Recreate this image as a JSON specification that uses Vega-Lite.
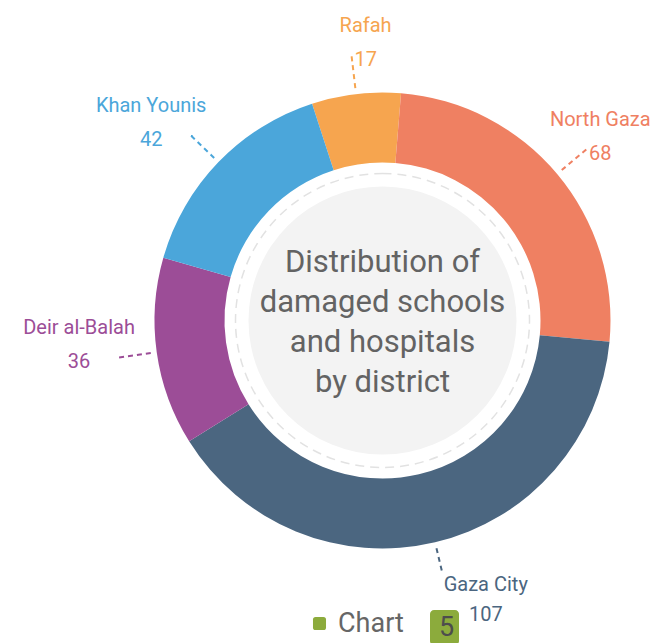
{
  "$schema": "https://vega.github.io/schema/vega-lite/v6.json",
  "autosize": {"type": "none"},
  "width": 537,
  "height": 551,
  "padding": {"left": 114, "top": 45, "right": 0, "bottom": 47},
  "background": "white",
  "config": {
    "view": {"stroke": null},
    "legend": {"layout": {"bottom": {"anchor": "middle", "margin": 26, "offset": 14}}}
  },
  "data": {"values": [
    {"district": "Rafah", "value": 17, "seq": 1},
    {"district": "North Gaza", "value": 68, "seq": 2},
    {"district": "Gaza City", "value": 107, "seq": 3},
    {"district": "Deir al-Balah", "value": 36, "seq": 4},
    {"district": "Khan Younis", "value": 42, "seq": 5}
  ]},
  "resolve": {"scale": {"color": "independent"}, "legend": {"color": "independent"}},
  "layer": [
    {
      "mark": {"type": "arc", "radius": 228, "radius2": 158},
      "encoding": {
        "theta": {"field": "value", "type": "quantitative", "stack": true, "scale": {"range": [-0.31416, 5.96903]}},
        "order": {"field": "seq", "type": "quantitative"},
        "color": {"field": "district", "type": "nominal", "legend": null,
          "scale": {"domain": ["Rafah", "North Gaza", "Gaza City", "Deir al-Balah", "Khan Younis"], "range": ["#f6a54f", "#ef8062", "#4b6680", "#9c4d97", "#4ba6da"]}}
      }
    },
    {
      "mark": {"type": "arc", "filled": false, "padAngle": 3.14, "radius2": 232,
        "radius": {"expr": "cos(scale('theta', (datum.value_start + datum.value_end) / 2)) < -0.5 ? 257 : 266"},
        "strokeWidth": 2, "strokeDash": [5, 4]},
      "encoding": {
        "theta": {"field": "value", "type": "quantitative", "stack": true},
        "order": {"field": "seq", "type": "quantitative"},
        "color": {"field": "district", "type": "nominal", "legend": null,
          "scale": {"domain": ["Rafah", "North Gaza", "Gaza City", "Deir al-Balah", "Khan Younis"], "range": ["#f6a54f", "#ef8062", "#4b6680", "#9c4d97", "#4ba6da"]}}
      }
    },
    {
      "data": {"values": [{}]},
      "mark": {"type": "arc", "theta": 0, "theta2": 6.2832, "radius": 134, "fill": "#f3f3f3"},
      "encoding": {}
    },
    {
      "data": {"values": [{}]},
      "mark": {"type": "arc", "theta": 0, "theta2": 6.2832, "radius": 147, "filled": false, "stroke": "#e2e2e2", "strokeWidth": 1.5, "strokeDash": [9, 6]},
      "encoding": {}
    },
    {
      "data": {"values": [{}]},
      "mark": {"type": "text", "text": ["Distribution of", "damaged schools", "and hospitals", "by district"],
        "font": "Roboto", "fontSize": 31, "lineHeight": 40, "color": "#636363", "baseline": "middle", "align": "center", "dy": -58},
      "encoding": {}
    },
    {
      "mark": {"type": "text", "font": "Roboto", "fontSize": 20, "baseline": "middle", "align": "center",
        "radius": {"expr": "cos(scale('theta', (datum.value_start + datum.value_end) / 2)) < -0.5 ? 257 : 266"},
        "dx": {"expr": "cos(scale('theta', (datum.value_start + datum.value_end) / 2)) < -0.5 ? 44 : (sin(scale('theta', (datum.value_start + datum.value_end) / 2)) < -0.3 ? -40 : 14)"},
        "dy": {"expr": "cos(scale('theta', (datum.value_start + datum.value_end) / 2)) < -0.5 ? 14 : -30"}},
      "encoding": {
        "theta": {"field": "value", "type": "quantitative", "stack": true},
        "order": {"field": "seq", "type": "quantitative"},
        "text": {"field": "district", "type": "nominal"},
        "color": {"field": "district", "type": "nominal", "legend": null,
          "scale": {"domain": ["Rafah", "North Gaza", "Gaza City", "Deir al-Balah", "Khan Younis"], "range": ["#f6a54f", "#ef8062", "#4b6680", "#9c4d97", "#4ba6da"]}}
      }
    },
    {
      "mark": {"type": "text", "font": "Roboto", "fontSize": 20, "baseline": "middle", "align": "center",
        "radius": {"expr": "cos(scale('theta', (datum.value_start + datum.value_end) / 2)) < -0.5 ? 257 : 266"},
        "dx": {"expr": "cos(scale('theta', (datum.value_start + datum.value_end) / 2)) < -0.5 ? 44 : (sin(scale('theta', (datum.value_start + datum.value_end) / 2)) < -0.3 ? -40 : 14)"},
        "dy": {"expr": "cos(scale('theta', (datum.value_start + datum.value_end) / 2)) < -0.5 ? 44 : 4"}},
      "encoding": {
        "theta": {"field": "value", "type": "quantitative", "stack": true},
        "order": {"field": "seq", "type": "quantitative"},
        "text": {"field": "value", "type": "quantitative"},
        "color": {"field": "district", "type": "nominal", "legend": null,
          "scale": {"domain": ["Rafah", "North Gaza", "Gaza City", "Deir al-Balah", "Khan Younis"], "range": ["#f6a54f", "#ef8062", "#4b6680", "#9c4d97", "#4ba6da"]}}
      }
    },
    {
      "data": {"values": [{"k": "Chart"}]},
      "mark": {"type": "text", "text": ""},
      "encoding": {
        "color": {"field": "k", "type": "nominal", "scale": {"range": ["#8cab3c"]},
          "legend": {"title": null, "orient": "bottom",
            "symbolType": "M -0.6 -1 L 0.6 -1 Q 1 -1 1 -0.6 L 1 0.6 Q 1 1 0.6 1 L -0.6 1 Q -1 1 -1 0.6 L -1 -0.6 Q -1 -1 -0.6 -1 Z",
            "symbolSize": 170, "symbolStrokeWidth": 0,
            "labelFont": "Roboto", "labelFontSize": 27, "labelColor": "#666666", "labelOffset": 5}}
      }
    },
    {
      "data": {"values": [{"k": "5"}]},
      "mark": {"type": "text", "text": ""},
      "encoding": {
        "color": {"field": "k", "type": "nominal", "scale": {"range": ["#8cab3c"]},
          "legend": {"title": null, "orient": "bottom",
            "symbolSize": 1, "symbolOpacity": 0, "symbolStrokeWidth": 0, "labelOffset": -22,
            "labelFont": "Roboto", "labelFontSize": 27, "labelColor": "#4d4d4d",
            "fillColor": "#8cab3c", "cornerRadius": 4, "padding": 4}}
      }
    }
  ]
}
